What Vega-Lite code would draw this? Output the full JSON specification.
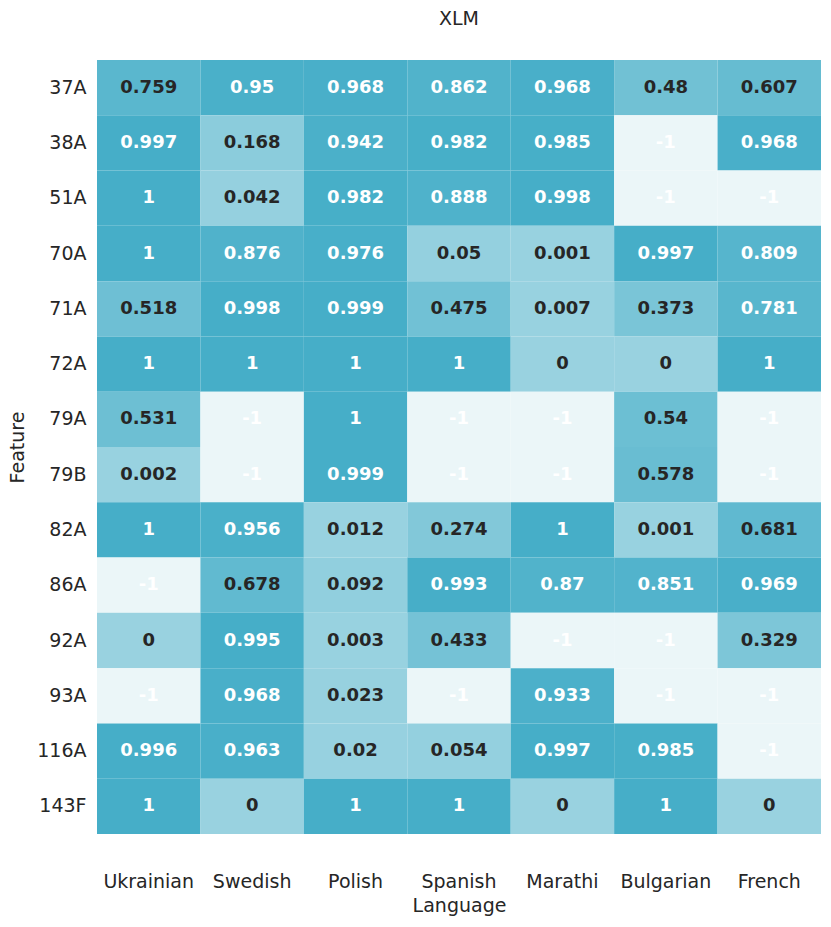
{
  "$schema": "https://vega.github.io/schema/vega-lite/v6.json",
  "width": 724,
  "height": 774,
  "autosize": "none",
  "padding": {"left": 97, "top": 60, "right": 10, "bottom": 93},
  "background": "white",
  "title": {"text": "XLM", "fontSize": 19, "font": "DejaVu Sans", "fontWeight": "normal", "color": "#262626", "offset": 31},
  "config": {"view": {"stroke": null}, "font": "DejaVu Sans"},
  "data": {"values": [
    {"Feature": "37A", "Ukrainian": 0.759, "Swedish": 0.95, "Polish": 0.968, "Spanish": 0.862, "Marathi": 0.968, "Bulgarian": 0.48, "French": 0.607},
    {"Feature": "38A", "Ukrainian": 0.997, "Swedish": 0.168, "Polish": 0.942, "Spanish": 0.982, "Marathi": 0.985, "Bulgarian": -1, "French": 0.968},
    {"Feature": "51A", "Ukrainian": 1, "Swedish": 0.042, "Polish": 0.982, "Spanish": 0.888, "Marathi": 0.998, "Bulgarian": -1, "French": -1},
    {"Feature": "70A", "Ukrainian": 1, "Swedish": 0.876, "Polish": 0.976, "Spanish": 0.05, "Marathi": 0.001, "Bulgarian": 0.997, "French": 0.809},
    {"Feature": "71A", "Ukrainian": 0.518, "Swedish": 0.998, "Polish": 0.999, "Spanish": 0.475, "Marathi": 0.007, "Bulgarian": 0.373, "French": 0.781},
    {"Feature": "72A", "Ukrainian": 1, "Swedish": 1, "Polish": 1, "Spanish": 1, "Marathi": 0, "Bulgarian": 0, "French": 1},
    {"Feature": "79A", "Ukrainian": 0.531, "Swedish": -1, "Polish": 1, "Spanish": -1, "Marathi": -1, "Bulgarian": 0.54, "French": -1},
    {"Feature": "79B", "Ukrainian": 0.002, "Swedish": -1, "Polish": 0.999, "Spanish": -1, "Marathi": -1, "Bulgarian": 0.578, "French": -1},
    {"Feature": "82A", "Ukrainian": 1, "Swedish": 0.956, "Polish": 0.012, "Spanish": 0.274, "Marathi": 1, "Bulgarian": 0.001, "French": 0.681},
    {"Feature": "86A", "Ukrainian": -1, "Swedish": 0.678, "Polish": 0.092, "Spanish": 0.993, "Marathi": 0.87, "Bulgarian": 0.851, "French": 0.969},
    {"Feature": "92A", "Ukrainian": 0, "Swedish": 0.995, "Polish": 0.003, "Spanish": 0.433, "Marathi": -1, "Bulgarian": -1, "French": 0.329},
    {"Feature": "93A", "Ukrainian": -1, "Swedish": 0.968, "Polish": 0.023, "Spanish": -1, "Marathi": 0.933, "Bulgarian": -1, "French": -1},
    {"Feature": "116A", "Ukrainian": 0.996, "Swedish": 0.963, "Polish": 0.02, "Spanish": 0.054, "Marathi": 0.997, "Bulgarian": 0.985, "French": -1},
    {"Feature": "143F", "Ukrainian": 1, "Swedish": 0, "Polish": 1, "Spanish": 1, "Marathi": 0, "Bulgarian": 1, "French": 0}
  ]},
  "transform": [
    {"fold": ["Ukrainian", "Swedish", "Polish", "Spanish", "Marathi", "Bulgarian", "French"], "as": ["Language", "value"]}
  ],
  "encoding": {
    "x": {
      "field": "Language", "type": "nominal",
      "sort": ["Ukrainian", "Swedish", "Polish", "Spanish", "Marathi", "Bulgarian", "French"],
      "scale": {"paddingInner": 0, "paddingOuter": 0},
      "axis": {"orient": "bottom", "labelAngle": 0, "domain": false, "ticks": false, "labelPadding": 38, "labelFontSize": 19, "labelColor": "#262626", "labelFont": "DejaVu Sans", "title": "Language", "titleFontSize": 19, "titleFontWeight": "normal", "titleColor": "#262626", "titlePadding": 5, "titleFont": "DejaVu Sans"}
    },
    "y": {
      "field": "Feature", "type": "nominal",
      "sort": ["37A", "38A", "51A", "70A", "71A", "72A", "79A", "79B", "82A", "86A", "92A", "93A", "116A", "143F"],
      "scale": {"paddingInner": 0, "paddingOuter": 0},
      "axis": {"domain": false, "ticks": false, "labelPadding": 11, "labelFontSize": 19, "labelColor": "#262626", "labelFont": "DejaVu Sans", "title": "Feature", "titleFontSize": 19, "titleFontWeight": "normal", "titleColor": "#262626", "titlePadding": 9, "titleFont": "DejaVu Sans"}
    }
  },
  "layer": [
    {
      "mark": {"type": "rect"},
      "encoding": {
        "color": {"field": "value", "type": "quantitative", "scale": {"type": "linear", "domain": [-1, 1], "range": ["#ebf6f8", "#46aec8"], "interpolate": "rgb"}, "legend": null}
      }
    },
    {
      "mark": {"type": "text", "fontSize": 18, "fontWeight": "bold", "font": "DejaVu Sans"},
      "encoding": {
        "text": {"field": "value", "type": "nominal"},
        "color": {
          "condition": {"test": "datum.value == -1 || datum.value > 0.77", "value": "#ffffff"},
          "value": "#262626"
        }
      }
    }
  ]
}
